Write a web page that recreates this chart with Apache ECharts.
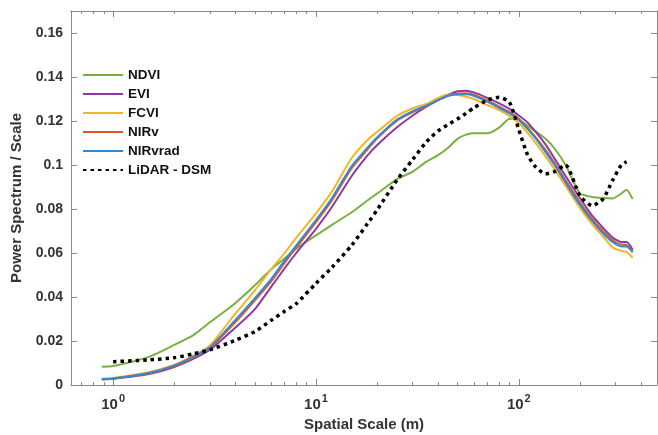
<!DOCTYPE html>
<html>
<head>
<meta charset="utf-8">
<script src="https://cdn.jsdelivr.net/npm/echarts@6/dist/echarts.min.js"></script>
<style>
  html, body { margin: 0; padding: 0; background: #fff; }
  #chart { width: 658px; height: 435px; }
</style>
</head>
<body>
<div id="chart"></div>
<script>
/* spatial scale (m) sample positions */
const scaleX = [0.88, 1, 1.5, 2, 2.5, 3, 4, 5, 6, 7, 8, 10, 12, 15, 18, 20, 25, 30, 35, 40, 45, 50, 55, 60, 70, 80, 90, 100, 110, 120, 135, 150, 170, 200, 230, 260, 290, 320, 340, 364];

const ndvi = [0.0083, 0.0086, 0.0128, 0.0182, 0.0228, 0.0285, 0.0372, 0.0453, 0.0525, 0.0575, 0.062, 0.068, 0.0728, 0.0785, 0.084, 0.087, 0.0935, 0.097, 0.1015, 0.1045, 0.108, 0.112, 0.1138, 0.1144, 0.1144, 0.117, 0.121, 0.1205, 0.118, 0.1155, 0.112, 0.1075, 0.1, 0.0871, 0.0855, 0.085, 0.0848, 0.087, 0.0888, 0.0845];
const evi = [0.0025, 0.0028, 0.005, 0.0082, 0.012, 0.016, 0.026, 0.0345, 0.0445, 0.053, 0.06, 0.071, 0.081, 0.095, 0.1045, 0.109, 0.117, 0.1225, 0.1265, 0.1295, 0.132, 0.1335, 0.1338, 0.133, 0.1305, 0.128, 0.1255, 0.1225, 0.1195, 0.1155, 0.1095, 0.103, 0.095, 0.085, 0.077, 0.0715, 0.067, 0.065, 0.065, 0.0615];
const fcvi = [0.0028, 0.0032, 0.0058, 0.0092, 0.0135, 0.018, 0.0324, 0.043, 0.0525, 0.06, 0.067, 0.078, 0.088, 0.1032, 0.1115, 0.115, 0.1222, 0.1258, 0.1278, 0.1305, 0.132, 0.1318, 0.131, 0.13, 0.1272, 0.125, 0.1222, 0.119, 0.1148, 0.1105, 0.104, 0.098, 0.0905, 0.0805, 0.073, 0.0675, 0.0625, 0.061, 0.0605, 0.0578];
const nirv = [0.0026, 0.0029, 0.0053, 0.0086, 0.0127, 0.0168, 0.0285, 0.0385, 0.047, 0.0555, 0.0625, 0.074, 0.084, 0.0985, 0.1072, 0.112, 0.12, 0.124, 0.1268, 0.1295, 0.1316, 0.1325, 0.1326, 0.132, 0.1294, 0.1266, 0.124, 0.121, 0.117, 0.113, 0.107, 0.101, 0.093, 0.083, 0.0755, 0.07, 0.0658, 0.0638, 0.0636, 0.0608];
const nirvrad = [0.0027, 0.003, 0.0055, 0.0088, 0.013, 0.0172, 0.0295, 0.0395, 0.048, 0.0565, 0.0635, 0.075, 0.085, 0.0995, 0.108, 0.1125, 0.1205, 0.1245, 0.127, 0.1295, 0.1315, 0.1322, 0.1322, 0.1315, 0.1288, 0.126, 0.1235, 0.1205, 0.1165, 0.1125, 0.106, 0.1, 0.092, 0.082, 0.0745, 0.069, 0.065, 0.063, 0.063, 0.0603];
const lidar = [null, 0.0106, 0.0114, 0.0124, 0.0142, 0.016, 0.0203, 0.0243, 0.0293, 0.0335, 0.037, 0.0462, 0.0535, 0.0635, 0.0735, 0.0795, 0.093, 0.1025, 0.1105, 0.1155, 0.1185, 0.121, 0.1235, 0.126, 0.1295, 0.1308, 0.1285, 0.116, 0.105, 0.0995, 0.096, 0.097, 0.1, 0.086, 0.0815, 0.0845, 0.093, 0.1, 0.1015, null];

const majorTicks = [1, 10, 100];
const minorTicks = [0.7, 0.8, 0.9, 2, 3, 4, 5, 6, 7, 8, 9, 20, 30, 40, 50, 60, 70, 80, 90, 200, 300, 400];

const names = ['NDVI', 'EVI', 'FCVI', 'NIRv', 'NIRvrad', 'LiDAR - DSM'];
const values = [ndvi, evi, fcvi, nirv, nirvrad, lidar];
const colors = ['#77b140', '#8a3aa6', '#f2b52a', '#dc5a22', '#3189d6', '#000000'];

const axisGray = '#8a8a8a';
const xMin = 0.62, xMax = 480;

function pairs(ys) {
    const out = [];
    scaleX.forEach((x, i) => { if (ys[i] != null) out.push([x, ys[i]]); });
    return out;
}

function xAxisDef(pos, ticks, len, withLabels) {
    return {
        type: 'log',
        logBase: 10,
        position: pos,
        min: xMin,
        max: xMax,
        axisLine: { show: withLabels || pos === 'top', onZero: false, lineStyle: { color: axisGray, width: 1 } },
        axisTick: { show: true, inside: true, length: len, customValues: ticks, lineStyle: { color: axisGray } },
        axisLabel: withLabels ? {
            show: true,
            customValues: majorTicks,
            margin: 8,
            formatter: v => '{b|10}{s|' + Math.round(Math.log10(v)) + '}',
            rich: {
                b: { fontSize: 15, fontWeight: 'bold', color: '#333', fontFamily: 'Liberation Sans' },
                s: { fontSize: 11, fontWeight: 'bold', color: '#333', fontFamily: 'Liberation Sans', padding: [0, 0, 12, 1] }
            }
        } : { show: false },
        splitLine: { show: false },
        name: withLabels ? 'Spatial Scale (m)' : '',
        nameLocation: 'middle',
        nameGap: 30,
        nameTextStyle: { fontSize: 15, fontWeight: 'bold', color: '#333', fontFamily: 'Liberation Sans' }
    };
}

function yAxisDef(pos, withLabels) {
    return {
        type: 'value',
        position: pos,
        min: 0,
        max: 0.17,
        interval: 0.02,
        axisLine: { show: true, lineStyle: { color: axisGray, width: 1 } },
        axisTick: { show: true, inside: true, length: 6, lineStyle: { color: axisGray } },
        axisLabel: withLabels ? {
            show: true, margin: 8, showMaxLabel: false,
            fontSize: 14, fontWeight: 'bold', color: '#333', fontFamily: 'Liberation Sans'
        } : { show: false },
        splitLine: { show: false },
        name: withLabels ? 'Power Spectrum / Scale' : '',
        nameLocation: 'middle',
        nameGap: 44,
        nameTextStyle: { fontSize: 15, fontWeight: 'bold', color: '#333', fontFamily: 'Liberation Sans' }
    };
}

const chart = echarts.init(document.getElementById('chart'), null, { renderer: 'canvas' });

chart.setOption({
    animation: false,
    backgroundColor: '#fff',
    grid: { left: 71, right: 1, top: 11, bottom: 50, containLabel: false, outerBoundsMode: 'none' },
    legend: {
        data: names,
        orient: 'vertical',
        left: 77,
        top: 63,
        itemWidth: 40,
        itemHeight: 12,
        itemGap: 5,
        itemStyle: { opacity: 0 },
        textStyle: { fontSize: 13.5, fontWeight: 'bold', color: '#111', fontFamily: 'Liberation Sans' }
    },
    xAxis: [
        xAxisDef('bottom', majorTicks, 6, true),
        xAxisDef('bottom', minorTicks, 3, false),
        xAxisDef('top', majorTicks, 6, false),
        xAxisDef('top', minorTicks, 3, false)
    ],
    yAxis: [yAxisDef('left', true), yAxisDef('right', false)],
    series: names.map((n, i) => ({
        name: n,
        type: 'line',
        xAxisIndex: 0,
        yAxisIndex: 0,
        data: pairs(values[i]),
        symbol: 'none',
        smooth: 0.2,
        color: colors[i],
        lineStyle: i === 5
            ? { color: '#000', width: 3.5, type: [3.5, 4] }
            : { color: colors[i], width: 2 }
    }))
});
</script>
</body>
</html>
